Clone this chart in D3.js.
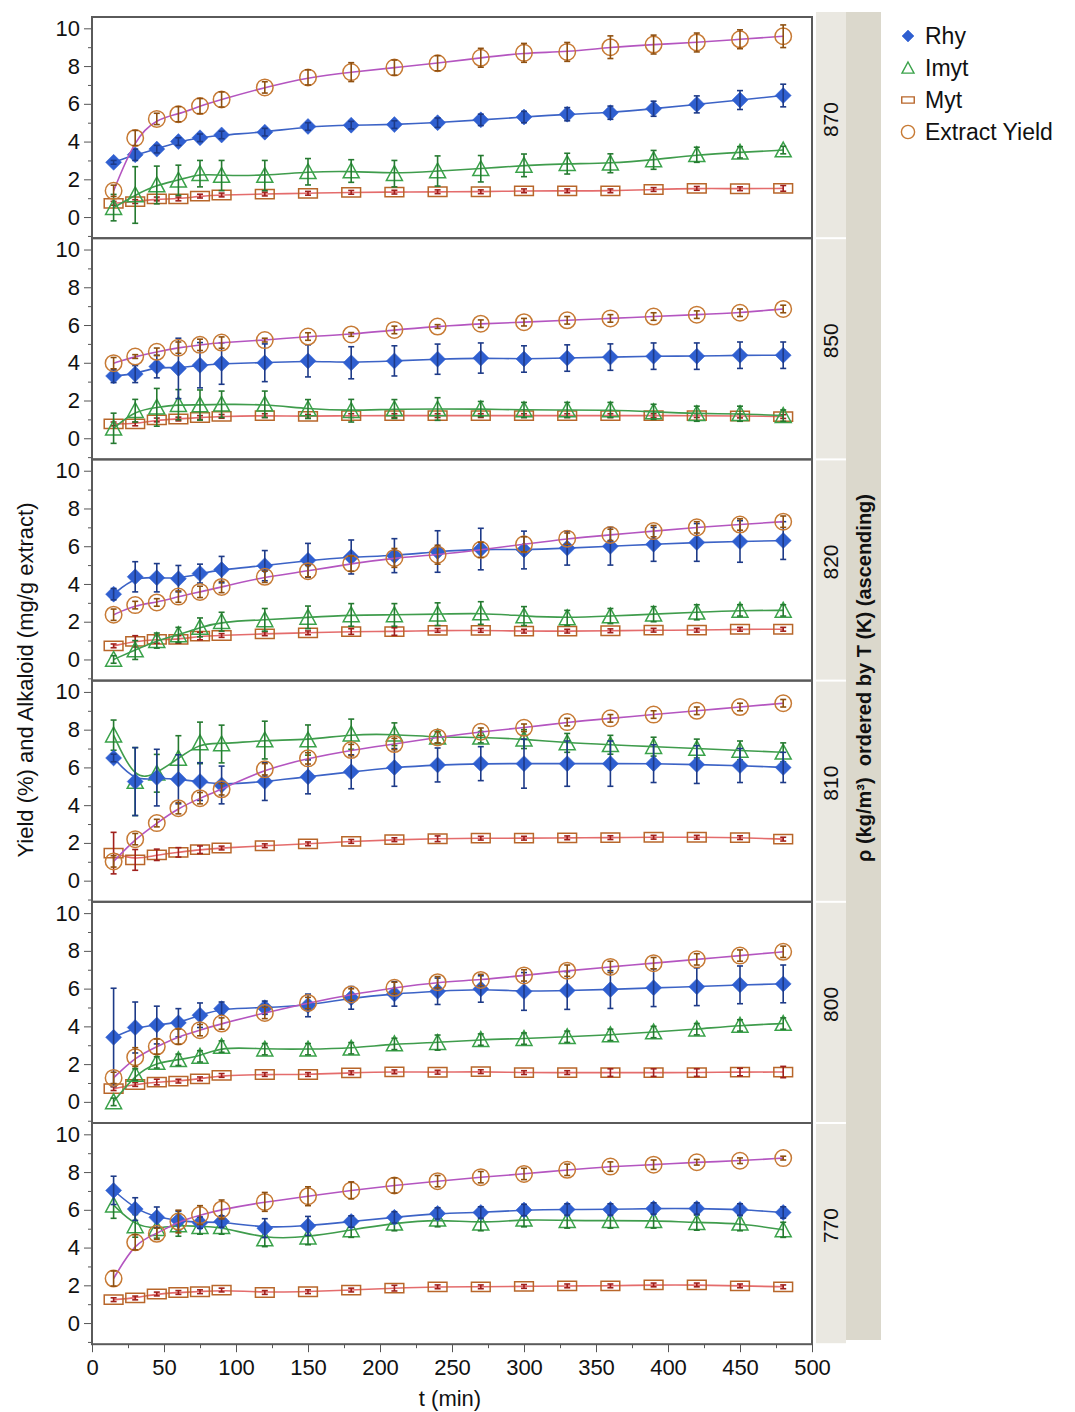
<!DOCTYPE html>
<html>
<head>
<meta charset="utf-8">
<script src="https://cdn.jsdelivr.net/npm/d3@7"></script>
<style>
  body { margin: 0; background: #fff; }
  text { font-family: "Liberation Sans", Arial, sans-serif; fill: #111; }
</style>
</head>
<body>
<svg width="1075" height="1412"></svg>
<script>
// sampling times (min)
const TIMES = [15, 30, 45, 60, 75, 90, 120, 150, 180, 210, 240, 270, 300, 330, 360, 390, 420, 450, 480];
// density panels, top to bottom
const PANELS = ['870', '850', '820', '810', '800', '770'];
const SERIES = ['Rhy', 'Imyt', 'Myt', 'Extract Yield'];
const X_TICKS = [0, 50, 100, 150, 200, 250, 300, 350, 400, 450, 500];
const Y_TICKS = [0, 2, 4, 6, 8, 10];

// one row per panel, same order as PANELS
const RHY = [
  [2.9, 3.3, 3.6, 4.0, 4.2, 4.35, 4.5, 4.8, 4.87, 4.9, 5.0, 5.15, 5.3, 5.45, 5.53, 5.74, 5.97, 6.2, 6.44],
  [3.3, 3.4, 3.8, 3.7, 3.87, 3.96, 4.0, 4.1, 4.0, 4.1, 4.19, 4.25, 4.2, 4.25, 4.3, 4.35, 4.35, 4.4, 4.4],
  [3.46, 4.38, 4.33, 4.28, 4.55, 4.76, 4.97, 5.25, 5.43, 5.5, 5.72, 5.85, 5.8, 5.9, 6.0, 6.1, 6.2, 6.25, 6.3],
  [6.5, 5.25, 5.46, 5.37, 5.25, 5.07, 5.25, 5.5, 5.77, 6.0, 6.13, 6.2, 6.2, 6.2, 6.2, 6.2, 6.15, 6.1, 6.0],
  [3.42, 3.94, 4.07, 4.19, 4.59, 4.94, 4.99, 5.11, 5.51, 5.72, 5.86, 5.98, 5.85, 5.9, 5.95, 6.05, 6.1, 6.2, 6.25],
  [7.03, 6.04, 5.6, 5.43, 5.32, 5.38, 5.03, 5.15, 5.38, 5.6, 5.81, 5.86, 5.99, 6.02, 6.02, 6.07, 6.07, 6.02, 5.86]
];
const RHY_ERR = [
  [0.1, 0.3, 0.2, 0.2, 0.2, 0.2, 0.2, 0.2, 0.2, 0.2, 0.25, 0.3, 0.3, 0.35, 0.35, 0.4, 0.45, 0.5, 0.6],
  [0.35, 0.45, 0.6, 1.6, 1.2, 1.1, 1.0, 0.85, 0.85, 0.8, 0.8, 0.8, 0.7, 0.7, 0.7, 0.7, 0.7, 0.7, 0.7],
  [0.3, 0.8, 0.75, 0.7, 0.5, 0.7, 0.8, 0.9, 0.9, 0.9, 1.1, 1.1, 1.0, 0.9, 1.0, 0.9, 1.0, 1.1, 1.0],
  [0.2, 1.8, 1.5, 1.3, 1.0, 1.0, 1.0, 0.9, 0.9, 1.0, 0.9, 0.9, 1.3, 1.2, 1.2, 1.0, 1.0, 0.9, 0.8],
  [2.6, 1.35, 1.0, 0.75, 0.65, 0.35, 0.35, 0.6, 0.6, 0.65, 0.7, 0.7, 1.0, 1.0, 1.0, 1.0, 1.0, 1.0, 1.0],
  [0.75, 0.6, 0.55, 0.5, 0.3, 0.3, 0.5, 0.5, 0.3, 0.3, 0.3, 0.3, 0.3, 0.3, 0.3, 0.3, 0.3, 0.3, 0.3]
];
const IMYT = [
  [0.5, 1.17, 1.7, 1.95, 2.3, 2.2, 2.2, 2.4, 2.44, 2.3, 2.44, 2.56, 2.74, 2.83, 2.85, 3.03, 3.3, 3.43, 3.55],
  [0.53, 1.46, 1.64, 1.78, 1.76, 1.8, 1.8, 1.55, 1.46, 1.55, 1.55, 1.55, 1.5, 1.5, 1.5, 1.4, 1.3, 1.3, 1.2],
  [0.0, 0.5, 1.0, 1.3, 1.7, 2.0, 2.1, 2.23, 2.36, 2.36, 2.4, 2.46, 2.3, 2.2, 2.3, 2.4, 2.5, 2.6, 2.6],
  [7.71, 5.25, 5.69, 6.48, 7.3, 7.24, 7.45, 7.45, 7.76, 7.76, 7.6, 7.6, 7.5, 7.3, 7.2, 7.1, 7.0, 6.9, 6.8],
  [0.0, 1.45, 2.09, 2.23, 2.41, 2.93, 2.79, 2.79, 2.84, 3.07, 3.14, 3.3, 3.35, 3.45, 3.55, 3.7, 3.85, 4.05, 4.15],
  [6.25, 5.15, 5.0, 5.2, 5.11, 5.11, 4.45, 4.55, 4.94, 5.29, 5.5, 5.29, 5.5, 5.43, 5.43, 5.43, 5.32, 5.29, 4.94]
];
const IMYT_ERR = [
  [0.7, 1.5, 1.0, 0.8, 0.7, 0.8, 0.8, 0.7, 0.6, 0.7, 0.8, 0.7, 0.6, 0.55, 0.5, 0.5, 0.4, 0.3, 0.2],
  [0.8, 0.6, 1.0, 0.8, 0.8, 0.7, 0.7, 0.5, 0.6, 0.5, 0.6, 0.4, 0.4, 0.4, 0.4, 0.4, 0.4, 0.4, 0.3],
  [0.2, 0.5, 0.4, 0.4, 0.5, 0.5, 0.6, 0.6, 0.6, 0.6, 0.6, 0.6, 0.5, 0.4, 0.4, 0.4, 0.4, 0.3, 0.3],
  [0.8, 1.8, 1.0, 1.2, 1.1, 1.0, 1.0, 0.8, 0.8, 0.6, 0.3, 0.3, 0.5, 0.5, 0.5, 0.5, 0.5, 0.5, 0.5],
  [0.2, 0.3, 0.3, 0.3, 0.3, 0.3, 0.3, 0.3, 0.3, 0.3, 0.4, 0.3, 0.3, 0.3, 0.3, 0.3, 0.3, 0.3, 0.3],
  [0.7, 0.6, 0.5, 0.6, 0.4, 0.4, 0.4, 0.4, 0.4, 0.4, 0.4, 0.4, 0.4, 0.4, 0.4, 0.4, 0.4, 0.4, 0.4]
];
const MYT = [
  [0.73, 0.82, 0.96, 0.96, 1.11, 1.17, 1.22, 1.26, 1.31, 1.32, 1.34, 1.34, 1.39, 1.39, 1.39, 1.46, 1.52, 1.5, 1.52],
  [0.76, 0.76, 0.97, 1.02, 1.1, 1.16, 1.2, 1.16, 1.2, 1.2, 1.2, 1.2, 1.2, 1.2, 1.2, 1.2, 1.2, 1.18, 1.15],
  [0.72, 0.96, 1.06, 1.06, 1.24, 1.27, 1.36, 1.41, 1.48, 1.48, 1.54, 1.54, 1.5, 1.5, 1.52, 1.55, 1.55, 1.6, 1.6],
  [1.46, 1.1, 1.37, 1.5, 1.64, 1.73, 1.85, 1.95, 2.08, 2.17, 2.22, 2.25, 2.25, 2.27, 2.28, 2.3, 2.3, 2.28, 2.2],
  [0.7, 0.92, 1.05, 1.1, 1.22, 1.4, 1.45, 1.45, 1.54, 1.59, 1.57, 1.6, 1.55, 1.55, 1.55, 1.55, 1.55, 1.58, 1.58],
  [1.24, 1.33, 1.54, 1.62, 1.66, 1.75, 1.62, 1.66, 1.75, 1.85, 1.92, 1.92, 1.94, 1.97, 1.97, 2.02, 2.02, 1.97, 1.92]
];
const MYT_ERR = [
  [0.1, 0.1, 0.1, 0.1, 0.1, 0.1, 0.1, 0.1, 0.1, 0.1, 0.1, 0.1, 0.1, 0.1, 0.1, 0.1, 0.1, 0.1, 0.15],
  [0.1, 0.1, 0.1, 0.1, 0.1, 0.1, 0.1, 0.1, 0.1, 0.1, 0.1, 0.1, 0.1, 0.1, 0.1, 0.1, 0.1, 0.1, 0.1],
  [0.1, 0.3, 0.2, 0.2, 0.2, 0.1, 0.1, 0.1, 0.15, 0.2, 0.1, 0.1, 0.1, 0.1, 0.1, 0.1, 0.1, 0.1, 0.1],
  [1.1, 0.55, 0.3, 0.25, 0.2, 0.1, 0.1, 0.1, 0.1, 0.1, 0.15, 0.1, 0.1, 0.1, 0.1, 0.1, 0.1, 0.1, 0.1],
  [0.1, 0.1, 0.15, 0.1, 0.1, 0.1, 0.1, 0.1, 0.1, 0.1, 0.1, 0.1, 0.1, 0.1, 0.2, 0.2, 0.2, 0.2, 0.3],
  [0.1, 0.1, 0.1, 0.1, 0.1, 0.1, 0.1, 0.1, 0.1, 0.15, 0.1, 0.1, 0.1, 0.1, 0.1, 0.1, 0.1, 0.1, 0.1]
];
const EXTRACT = [
  [1.39, 4.19, 5.2, 5.45, 5.88, 6.23, 6.87, 7.4, 7.68, 7.92, 8.15, 8.44, 8.7, 8.75, 9.0, 9.14, 9.25, 9.42, 9.58],
  [3.98, 4.33, 4.58, 4.8, 4.95, 5.07, 5.2, 5.39, 5.5, 5.74, 5.92, 6.07, 6.15, 6.25, 6.35, 6.45, 6.55, 6.65, 6.85],
  [2.37, 2.88, 3.02, 3.33, 3.58, 3.84, 4.38, 4.68, 5.08, 5.38, 5.55, 5.81, 6.1, 6.4, 6.6, 6.8, 7.0, 7.15, 7.3],
  [1.02, 2.2, 3.05, 3.84, 4.37, 4.84, 5.9, 6.48, 6.92, 7.24, 7.59, 7.89, 8.1, 8.4, 8.6, 8.8, 9.0, 9.2, 9.4],
  [1.27, 2.37, 2.93, 3.46, 3.8, 4.15, 4.71, 5.24, 5.69, 6.04, 6.34, 6.46, 6.7, 6.95, 7.15, 7.35, 7.55, 7.75, 7.95],
  [2.36, 4.28, 4.73, 5.38, 5.72, 6.02, 6.42, 6.72, 7.03, 7.29, 7.52, 7.73, 7.9, 8.12, 8.29, 8.39, 8.52, 8.6, 8.74]
];
const EXTRACT_ERR = [
  [0.3, 0.4, 0.3, 0.4, 0.4, 0.4, 0.3, 0.4, 0.5, 0.4, 0.4, 0.5, 0.5, 0.5, 0.6, 0.5, 0.5, 0.5, 0.6],
  [0.3, 0.1, 0.2, 0.3, 0.3, 0.3, 0.1, 0.2, 0.1, 0.2, 0.1, 0.2, 0.2, 0.2, 0.2, 0.2, 0.2, 0.2, 0.2],
  [0.3, 0.2, 0.2, 0.3, 0.3, 0.3, 0.3, 0.3, 0.4, 0.5, 0.5, 0.4, 0.4, 0.3, 0.3, 0.3, 0.3, 0.3, 0.3],
  [0.3, 0.3, 0.2, 0.3, 0.3, 0.3, 0.3, 0.3, 0.3, 0.3, 0.3, 0.2, 0.2, 0.2, 0.2, 0.2, 0.2, 0.2, 0.2],
  [0.3, 0.5, 0.4, 0.4, 0.3, 0.3, 0.3, 0.3, 0.3, 0.3, 0.3, 0.3, 0.3, 0.3, 0.3, 0.3, 0.3, 0.3, 0.3],
  [0.4, 0.4, 0.3, 0.6, 0.5, 0.5, 0.5, 0.5, 0.45, 0.4, 0.3, 0.3, 0.3, 0.3, 0.25, 0.25, 0.15, 0.15, 0.1]
];

const STYLE = {
  'Rhy':           { vals: RHY,     errs: RHY_ERR,     line: '#3c63c6', mark: '#2f5fd0', err: '#1d3a88', fill: true,  shape: 'diamond' },
  'Imyt':          { vals: IMYT,    errs: IMYT_ERR,    line: '#3f9c4c', mark: '#3aa24a', err: '#257a30', fill: false, shape: 'triangle' },
  'Myt':           { vals: MYT,     errs: MYT_ERR,     line: '#e46c6c', mark: '#b8662a', err: '#a0201c', fill: false, shape: 'rect' },
  'Extract Yield': { vals: EXTRACT, errs: EXTRACT_ERR, line: '#b455c0', mark: '#c77a34', err: '#8f5010', fill: false, shape: 'circle' }
};
const DRAW_ORDER = ['Myt', 'Imyt', 'Rhy', 'Extract Yield'];

const LEFT = 92, RIGHT = 812, TOP = 17, PANEL_H = 221.2;
const svg = d3.select('svg');

const x = d3.scaleLinear().domain([0, 500]).range([LEFT, RIGHT]);

function shapePath(shape, s) {
  if (shape === 'diamond') return `M0,${-s}L${s},0L0,${s}L${-s},0Z`;
  if (shape === 'triangle') return `M0,${-s}L${s},${s * 0.85}L${-s},${s * 0.85}Z`;
  if (shape === 'rect') return `M${-s * 1.25},${-s * 0.62}h${s * 2.5}v${s * 1.24}h${-s * 2.5}Z`;
  return d3.arc()({ innerRadius: 0, outerRadius: s * 1.1, startAngle: 0, endAngle: 2 * Math.PI });
}

// right-hand strip background (overall title)
svg.append('rect').attr('x', 846).attr('y', 12).attr('width', 35).attr('height', 1328).attr('fill', '#dbd8cc');

PANELS.forEach((p, pi) => {
  const top = TOP + pi * PANEL_H;
  const y = d3.scaleLinear().domain([-1.12, 10.6]).range([top + PANEL_H, top]);
  const g = svg.append('g');

  // strip label box
  g.append('rect').attr('x', 816).attr('y', top + (pi === 0 ? -5 : 1)).attr('width', 30)
    .attr('height', PANEL_H - (pi === 0 ? -4 : 2)).attr('fill', '#eae8e1');
  g.append('text')
    .attr('transform', `translate(838, ${top + PANEL_H / 2 - 8}) rotate(-90)`)
    .attr('text-anchor', 'middle').attr('font-size', 21).text(p);

  // y axis
  const ya = g.append('g').attr('transform', `translate(${LEFT},0)`)
    .call(d3.axisLeft(y).tickValues(Y_TICKS).tickSize(8).tickSizeOuter(0).tickPadding(4));
  ya.select('.domain').remove();
  ya.selectAll('line').attr('stroke', '#555');
  ya.selectAll('text').attr('font-size', 22).attr('fill', '#111').style('font-family', '"Liberation Sans", Arial, sans-serif');
  g.append('g').attr('transform', `translate(${LEFT},0)`)
    .call(d3.axisLeft(y).tickValues(d3.range(-1, 11, 2)).tickSize(4).tickFormat(''))
    .call(a => a.select('.domain').remove())
    .selectAll('line').attr('stroke', '#555');

  // panel frame
  g.append('rect').attr('x', LEFT).attr('y', top).attr('width', RIGHT - LEFT).attr('height', PANEL_H)
    .attr('fill', 'none').attr('stroke', '#5a5a5a').attr('stroke-width', 2);

  DRAW_ORDER.forEach(name => {
    const st = STYLE[name];
    const pts = TIMES.map((t, i) => ({ t, v: st.vals[pi][i], e: st.errs[pi][i] }));
    g.append('path').datum(pts)
      .attr('d', d3.line().x(d => x(d.t)).y(d => y(d.v)).curve(d3.curveBasis))
      .attr('fill', 'none').attr('stroke', st.line).attr('stroke-width', 1.6);
    const size = st.shape === 'diamond' ? 8 : st.shape === 'triangle' ? 8 : 7.5;
    g.selectAll(null).data(pts).enter().append('path')
      .attr('transform', d => `translate(${x(d.t)},${y(d.v)})`)
      .attr('d', shapePath(st.shape, size))
      .attr('fill', st.fill ? st.mark : 'none')
      .attr('stroke', st.mark).attr('stroke-width', st.fill ? 0.5 : 1.5);
    // error bars
    const eb = g.selectAll(null).data(pts).enter().append('g').attr('stroke', st.err).attr('stroke-width', 1.6);
    eb.append('line').attr('x1', d => x(d.t)).attr('x2', d => x(d.t))
      .attr('y1', d => y(d.v - d.e)).attr('y2', d => y(d.v + d.e));
    eb.append('line').attr('x1', d => x(d.t) - 3).attr('x2', d => x(d.t) + 3)
      .attr('y1', d => y(d.v - d.e)).attr('y2', d => y(d.v - d.e));
    eb.append('line').attr('x1', d => x(d.t) - 3).attr('x2', d => x(d.t) + 3)
      .attr('y1', d => y(d.v + d.e)).attr('y2', d => y(d.v + d.e));
  });
});

// x axis
const bottom = TOP + PANELS.length * PANEL_H;
const xa = svg.append('g').attr('transform', `translate(0,${bottom})`)
  .call(d3.axisBottom(x).tickValues(X_TICKS).tickSize(8).tickSizeOuter(0).tickPadding(7));
xa.select('.domain').remove();
xa.selectAll('line').attr('stroke', '#555');
xa.selectAll('text').attr('font-size', 22).attr('fill', '#111').style('font-family', '"Liberation Sans", Arial, sans-serif');
svg.append('g').attr('transform', `translate(0,${bottom})`)
  .call(d3.axisBottom(x).tickValues(d3.range(25, 500, 50)).tickSize(4).tickFormat(''))
  .call(a => a.select('.domain').remove())
  .selectAll('line').attr('stroke', '#555');

svg.append('text').attr('x', 450).attr('y', 1406).attr('text-anchor', 'middle').attr('font-size', 22).text('t (min)');

svg.append('text').attr('transform', 'translate(33, 680) rotate(-90)')
  .attr('text-anchor', 'middle').attr('font-size', 22).text('Yield (%) and Alkaloid (mg/g extract)');

svg.append('text').attr('transform', 'translate(871, 678) rotate(-90)')
  .attr('text-anchor', 'middle').attr('font-size', 20).attr('font-weight', 'bold')
  .text('ρ (kg/m³)  ordered by T (K) (ascending)').attr('xml:space', 'preserve');

// legend
const legend = svg.append('g').attr('transform', 'translate(908, 36)');
SERIES.forEach((name, i) => {
  const st = STYLE[name];
  const row = legend.append('g').attr('transform', `translate(0, ${i * 32})`);
  row.append('path').attr('d', shapePath(st.shape, st.shape === 'rect' ? 5 : 6))
    .attr('fill', st.fill ? st.mark : 'none').attr('stroke', st.mark).attr('stroke-width', st.fill ? 0.5 : 1.4);
  row.append('text').attr('x', 17).attr('y', 8).attr('font-size', 23).text(name);
});
</script>
</body>
</html>
